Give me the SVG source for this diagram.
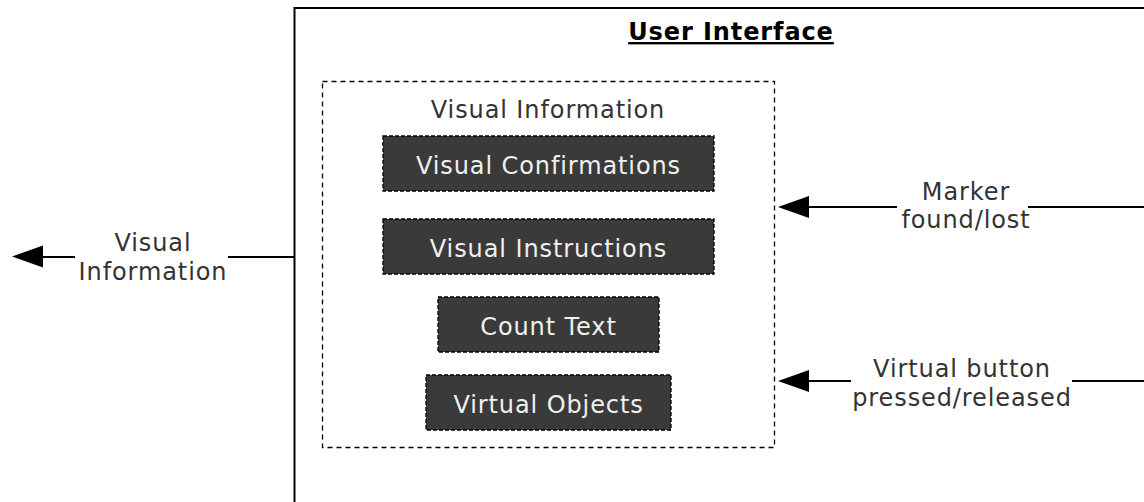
<svg xmlns="http://www.w3.org/2000/svg" width="1144" height="502" viewBox="0 0 1144 502">
<defs>
<style>
.t{font-family:"DejaVu Sans",Verdana,sans-serif;font-size:24px;letter-spacing:0.9px;fill:#333;text-anchor:middle}
.w{font-family:"DejaVu Sans",Verdana,sans-serif;font-size:24px;letter-spacing:0.9px;fill:#f0f0f0;text-anchor:middle}
.box{fill:#3a3a3a;stroke:#000;stroke-width:1.3;stroke-dasharray:4 2}
.edge{stroke:#000;stroke-width:2;fill:none}
.head{fill:#000}
</style>
</defs>
<rect width="1144" height="502" fill="#fff"/>
<g id="ui">
<rect x="294.5" y="8" width="900" height="540" fill="none" stroke="#000" stroke-width="2"/>
<text class="t" x="731" y="40" style="font-weight:bold;text-decoration:underline;fill:#000">User Interface</text>
</g>
<g id="visual-info">
<rect x="322.5" y="81.5" width="452" height="366" fill="none" stroke="#000" stroke-width="1.3" stroke-dasharray="5 4"/>
<text class="t" x="548" y="118">Visual Information</text>
</g>
<g id="confirmations"><rect class="box" x="383" y="136" width="331" height="55"/><text class="w" x="548.5" y="174">Visual Confirmations</text></g>
<g id="instructions"><rect class="box" x="383" y="219" width="331" height="55"/><text class="w" x="548.5" y="257">Visual Instructions</text></g>
<g id="count"><rect class="box" x="438" y="297" width="221" height="55"/><text class="w" x="548.5" y="335">Count Text</text></g>
<g id="objects"><rect class="box" x="426" y="375" width="245" height="55"/><text class="w" x="548.5" y="413">Virtual Objects</text></g>
<g id="connectors">
<path class="edge" d="M294,257 H228 M75,257 H40"/>
<path class="head" d="M12,256.5 L43,245.5 L43,267.5 Z"/>
<path class="edge" d="M1144,207 H1028 M897,207 H806"/>
<path class="head" d="M778,207 L809,196 L809,218 Z"/>
<path class="edge" d="M1144,381 H1072 M851,381 H806"/>
<path class="head" d="M778,381 L809,370 L809,392 Z"/>
<text class="t" x="153" y="251">Visual</text>
<text class="t" x="153" y="280">Information</text>
<text class="t" x="966" y="200">Marker</text>
<text class="t" x="966" y="228">found/lost</text>
<text class="t" x="962" y="377">Virtual button</text>
<text class="t" x="962" y="406">pressed/released</text>
</g>
</svg>
